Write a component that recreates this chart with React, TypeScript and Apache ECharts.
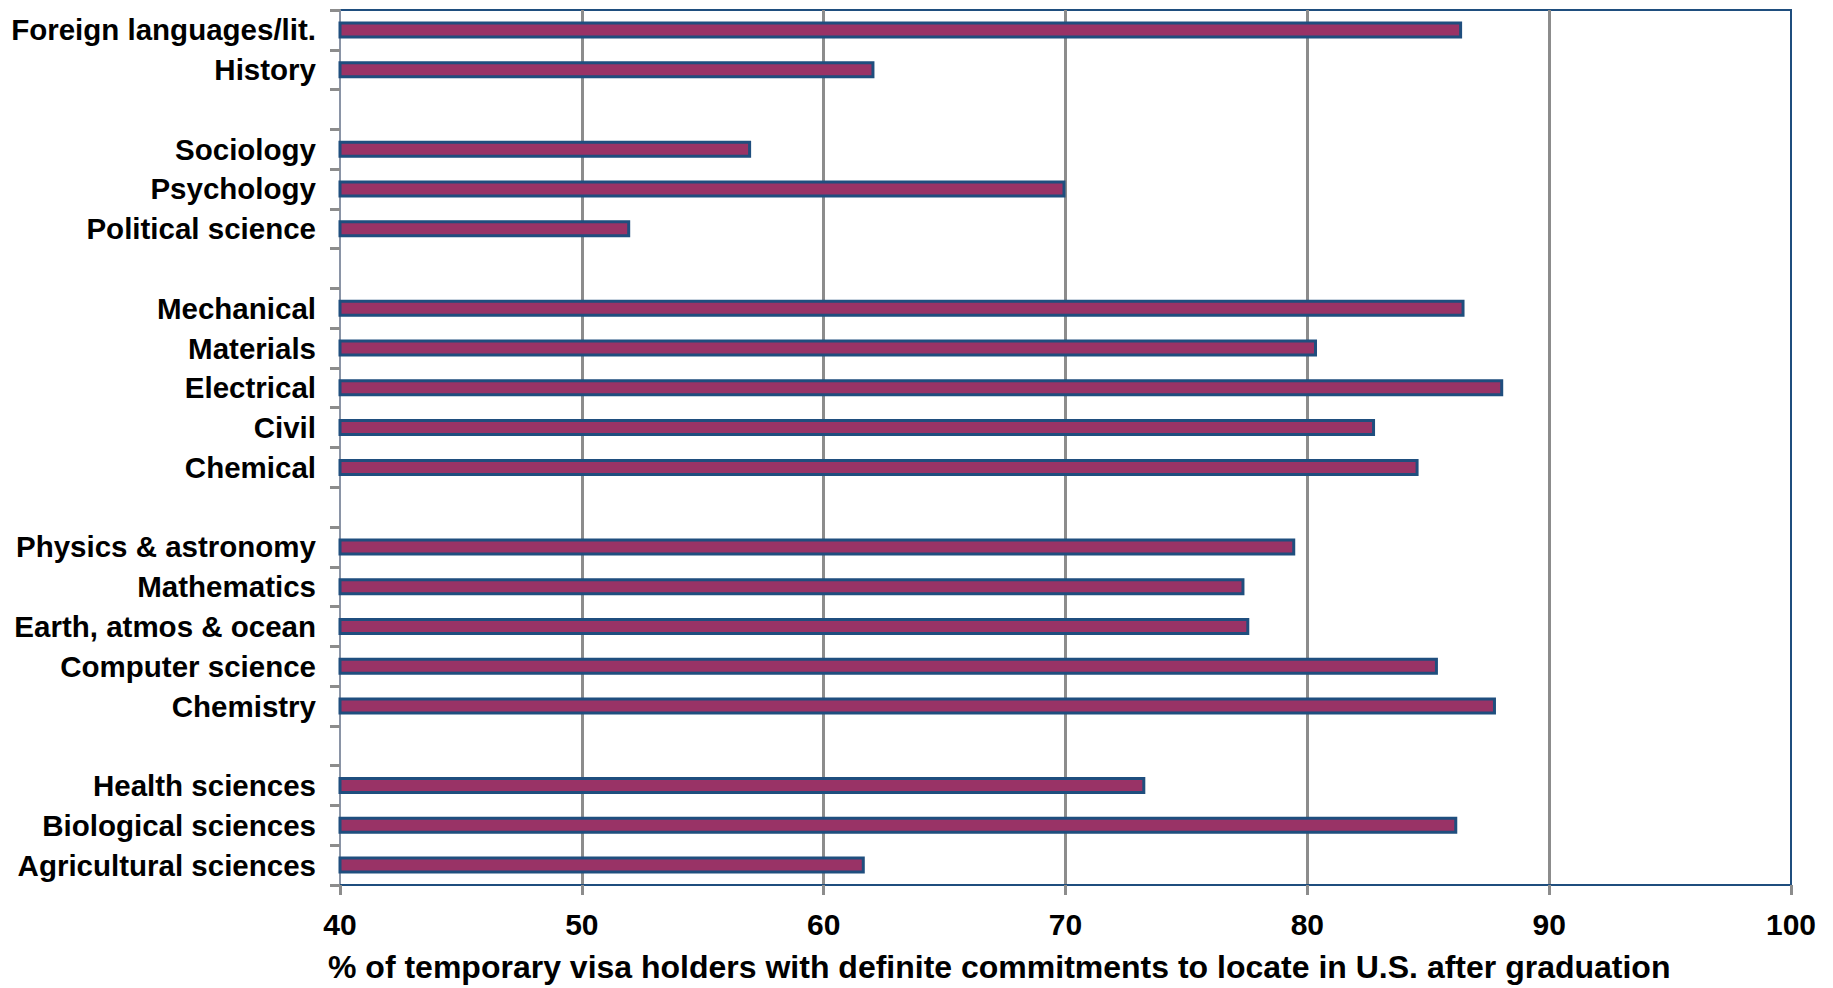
import React, { useEffect, useRef } from "react";
import * as echarts from "echarts";

const categories: string[] = [
  "Foreign languages/lit.",
  "History",
  "",
  "Sociology",
  "Psychology",
  "Political science",
  " ",
  "Mechanical",
  "Materials",
  "Electrical",
  "Civil",
  "Chemical",
  "  ",
  "Physics & astronomy",
  "Mathematics",
  "Earth, atmos & ocean",
  "Computer science",
  "Chemistry",
  "   ",
  "Health sciences",
  "Biological sciences",
  "Agricultural sciences",
];

const values: (number | null)[] = [
  86.4, 62.1, null,
  57.0, 70.0, 52.0, null,
  86.5, 80.4, 88.1, 82.8, 84.6, null,
  79.5, 77.4, 77.6, 85.4, 87.8, null,
  73.3, 86.2, 61.7,
];

const xMin = 40;
const xMax = 100;
const xStep = 10;
const xTitle = "% of temporary visa holders with definite commitments to locate in U.S. after graduation";

const FONT = "'Liberation Sans', Arial, sans-serif";

export default function App() {
  const ref = useRef<HTMLDivElement>(null);
  useEffect(() => {
    if (!ref.current) return;
    const chart = echarts.init(ref.current, undefined, { renderer: "svg" });
    chart.setOption({
      animation: false,
      backgroundColor: "#ffffff",
      grid: {
        left: 340,
        right: 42,
        top: 10,
        bottom: 103,
        show: true,
        borderColor: "#1F4E7E",
        borderWidth: 2,
        backgroundColor: "transparent",
      },
      xAxis: {
        type: "value",
        min: xMin,
        max: xMax,
        interval: xStep,
        axisLine: { show: true, lineStyle: { color: "#1F4E7E", width: 2 } },
        axisTick: { show: true, length: 10, lineStyle: { color: "#8c8c8c", width: 3 } },
        axisLabel: {
          margin: 24,
          color: "#000",
          fontFamily: FONT,
          fontWeight: "bold",
          fontSize: 30,
        },
        splitLine: {
          show: true,
          showMinLine: false,
          showMaxLine: false,
          lineStyle: { color: "#8c8c8c", width: 3 },
        },
      },
      yAxis: {
        type: "category",
        data: categories,
        inverse: true,
        axisLine: { show: true, lineStyle: { color: "#8a94a6", width: 2 } },
        axisTick: { show: true, length: 10, lineStyle: { color: "#8c8c8c", width: 3 } },
        axisLabel: {
          margin: 24,
          color: "#000",
          fontFamily: FONT,
          fontWeight: "bold",
          fontSize: 29.5,
          interval: 0,
        },
        splitLine: { show: false },
      },
      series: [
        {
          type: "bar",
          data: values,
          barWidth: 17,
          itemStyle: {
            color: "#993366",
            borderColor: "#1F4E7E",
            borderWidth: 3,
          },
        },
      ],
      graphic: [
        {
          type: "text",
          left: 328,
          top: 951,
          style: {
            text: xTitle,
            font: `bold 32px ${FONT}`,
            fill: "#000",
          },
        },
      ],
    });
    return () => chart.dispose();
  }, []);
  return (
    <div
      ref={ref}
      style={{ position: "absolute", left: 0, top: 0, width: 1833, height: 988 }}
    />
  );
}
